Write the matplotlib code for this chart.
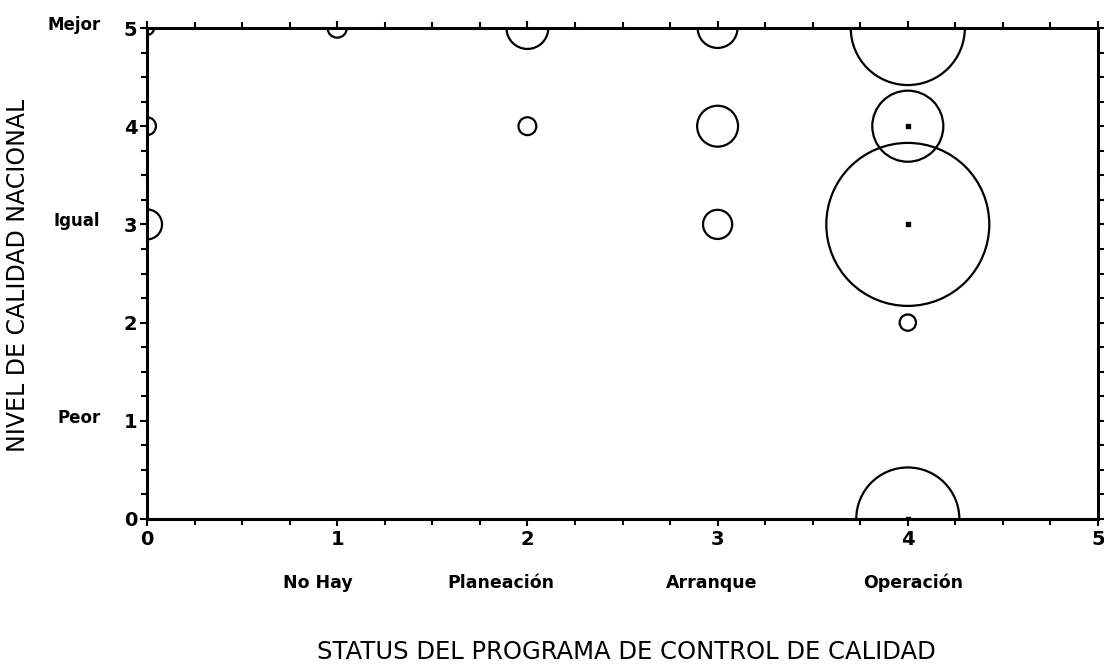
import matplotlib
matplotlib.use("Agg")
import matplotlib.pyplot as plt
from matplotlib.patches import Ellipse
from matplotlib.ticker import MultipleLocator

# Status of the quality-control programme (x) vs. national quality level (y)
status_x = [0, 0, 0, 1, 2, 2, 3, 3, 3, 4, 4, 4, 4, 4]
nivel_y = [5, 4, 3, 5, 5, 4, 5, 4, 3, 5, 4, 3, 2, 0]
# relative frequency of each combination (bubble area)
frecuencia = [0.75, 1.2, 3.4, 1.4, 6.6, 1.2, 6.0, 6.3, 3.2, 49, 19, 100, 1.0, 40]

# small centre marks drawn inside some bubbles
marca_x = [4, 4, 4]
marca_y = [4, 3, 0]

x_ticks = [0, 1, 2, 3, 4, 5]
y_ticks = [0, 1, 2, 3, 4, 5]
status_labels = ["No Hay", "Planeación", "Arranque", "Operación"]
status_pos = [1, 2, 3, 4]
nivel_labels = ["Peor", "Igual", "Mejor"]
nivel_pos = [1, 3, 5]

plt.rcParams["font.family"] = ["DejaVu Sans"]

fig = plt.figure(figsize=(11.04, 6.65), dpi=100)
ax = fig.add_axes([147 / 1104, 1 - 519 / 665, (1098 - 147) / 1104, (519 - 28) / 665])
ax.set_xlim(0, 5)
ax.set_ylim(0, 5)

# bubbles: area proportional to frecuencia, round on screen, clipped by the frame
radius_px_per_sqrt = 8.15 * fig.dpi / 100
px_per_x = ax.bbox.width / (ax.get_xlim()[1] - ax.get_xlim()[0])
px_per_y = ax.bbox.height / (ax.get_ylim()[1] - ax.get_ylim()[0])
for x, y, v in zip(status_x, nivel_y, frecuencia):
    r = radius_px_per_sqrt * v ** 0.5
    e = Ellipse((x, y), 2 * r / px_per_x, 2 * r / px_per_y,
                facecolor="none", edgecolor="black", linewidth=1.6, zorder=3)
    ax.add_patch(e)
    e.set_clip_path(ax.patch)

marcas = ax.scatter(marca_x, marca_y, s=6, marker="s", color="black", zorder=4)

for sp in ax.spines.values():
    sp.set_linewidth(2.2)
    sp.set_zorder(5)

ax.xaxis.set_major_locator(MultipleLocator(1))
ax.xaxis.set_minor_locator(MultipleLocator(0.25))
ax.yaxis.set_major_locator(MultipleLocator(1))
ax.yaxis.set_minor_locator(MultipleLocator(0.25))
ax.set_xticks(x_ticks)
ax.set_yticks(y_ticks)
ax.tick_params(which="both", direction="out", top=True, right=True,
               width=1.5, labelsize=14, pad=3)
ax.tick_params(which="major", length=5)
ax.tick_params(which="minor", length=4)
ax.tick_params(axis="y", which="major", pad=2)
for t in ax.get_xticklabels() + ax.get_yticklabels():
    t.set_fontweight("bold")

# category names below the numeric status ticks
label_shift = [-0.1, -0.14, -0.03, 0.03]
for p, lab, dx in zip(status_pos, status_labels, label_shift):
    ax.text(p + dx, -0.65, lab, ha="center", va="center", fontsize=12.5,
            fontweight="bold", transform=ax.transData)

# qualitative names beside the level ticks
for p, lab in zip(nivel_pos, nivel_labels):
    ax.text(-0.245, p + 0.03, lab, ha="right", va="center", fontsize=12,
            fontweight="bold", transform=ax.transData)

fig.text(626 / 1104, 1 - 652 / 665, "STATUS DEL PROGRAMA DE CONTROL DE CALIDAD",
         ha="center", va="center", fontsize=17.5)
fig.text(18 / 1104, 1 - 275 / 665, "NIVEL DE CALIDAD NACIONAL",
         ha="center", va="center", rotation=90, fontsize=17)

fig.savefig("out.png", dpi=100)
